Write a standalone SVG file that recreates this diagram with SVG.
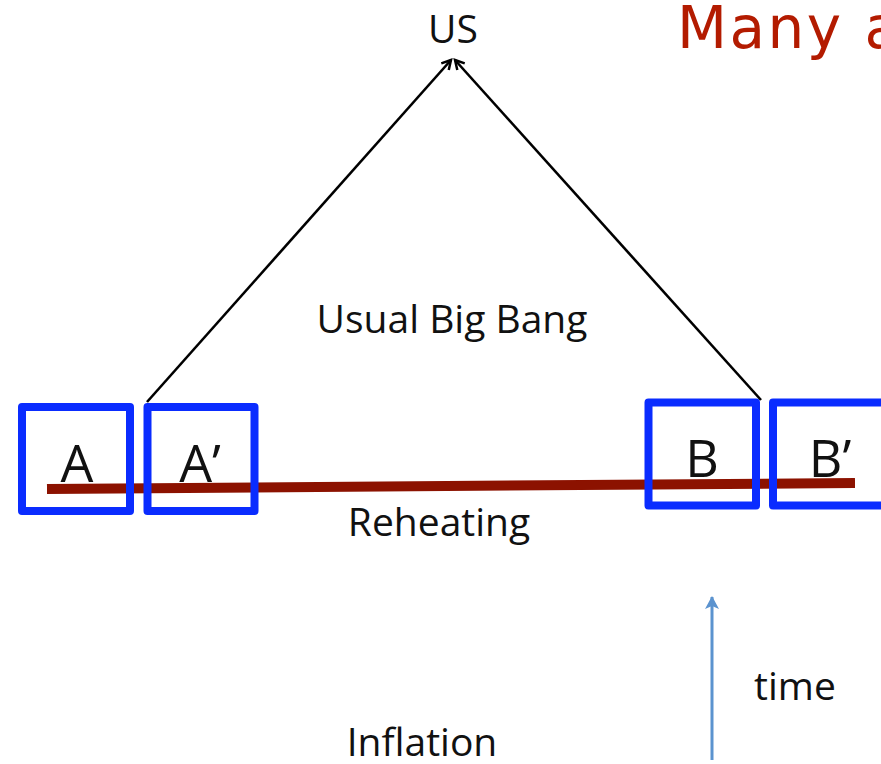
<svg xmlns="http://www.w3.org/2000/svg" width="881" height="764" viewBox="0 0 881 764">
<style>
.t{font-family:"Open Sans","Noto Sans",sans-serif;fill:#111}
.lbl{font-size:39px}
.big{font-size:52px}
.box{fill:none;stroke:#0a2cff;stroke-width:8;stroke-linejoin:round}
.ln{stroke:#000;stroke-width:2.6;fill:none}
</style>
<defs>
<marker id="ah" markerWidth="14" markerHeight="14" refX="10" refY="6" orient="auto" markerUnits="userSpaceOnUse">
<path d="M1,1 L10,6 L1,11" fill="none" stroke="#000" stroke-width="2.5"/>
</marker>
<marker id="bh" markerWidth="18" markerHeight="18" refX="13" refY="8" orient="auto" markerUnits="userSpaceOnUse">
<path d="M1,1 L14,8 L1,15 L4,8 Z" fill="#5b93cf"/>
</marker>
</defs>
<rect width="881" height="764" fill="#fff"/>
<text x="677" y="48" style="font-family:'DejaVu Sans','Noto Sans',sans-serif;font-size:58px;letter-spacing:2.5px;fill:#b31b00">Many a</text>
<g id="reheating">
<line x1="47" y1="489" x2="855" y2="483" stroke="#8c1200" stroke-width="10"/>
<text class="t lbl" x="439" y="536" text-anchor="middle">Reheating</text>
</g>
<g id="connectors">
<line class="ln" x1="147" y1="402" x2="451" y2="60" marker-end="url(#ah)"/>
<line class="ln" x1="761" y1="400" x2="455" y2="60" marker-end="url(#ah)"/>
<line x1="712" y1="760" x2="712" y2="597" stroke="#5b93cf" stroke-width="3" marker-end="url(#bh)"/>
</g>
<g id="us"><text class="t lbl" x="453" y="43" text-anchor="middle">US</text></g>
<g id="bigbang"><text class="t lbl" x="452" y="333" text-anchor="middle">Usual Big Bang</text></g>
<g id="A"><rect class="box" x="22" y="407" width="108" height="104"/><text class="t big" x="77" y="482" text-anchor="middle">A</text></g>
<g id="Ap"><rect class="box" x="147.5" y="407" width="107" height="104"/><text class="t big" x="200" y="482" text-anchor="middle">A’</text></g>
<g id="B"><rect class="box" x="648.5" y="402.5" width="107.5" height="103"/><text class="t big" x="702" y="477" text-anchor="middle">B</text></g>
<g id="Bp"><rect class="box" x="773" y="402.5" width="120" height="103"/><text class="t big" x="830" y="477" text-anchor="middle">B’</text></g>
<g id="inflation"><text class="t lbl" x="422" y="756" text-anchor="middle">Inflation</text></g>
<g id="time"><text class="t lbl" x="795" y="700" text-anchor="middle">time</text></g>
</svg>
